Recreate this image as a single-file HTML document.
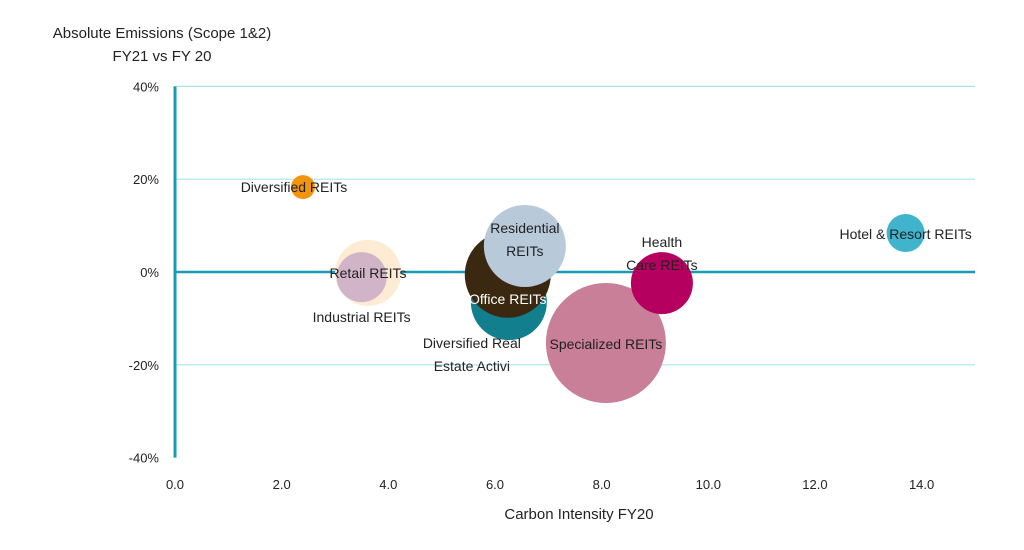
<!DOCTYPE html>
<html><head><meta charset="utf-8"><style>
html,body{margin:0;padding:0;background:#fff;width:1024px;height:550px;overflow:hidden}
svg text{font-family:"Liberation Sans",sans-serif;fill:#222}
</style></head><body>
<svg id="chart" width="1024" height="550" viewBox="0 0 1024 550" xmlns="http://www.w3.org/2000/svg">
<g>
<text x="162" y="38" font-size="15" text-anchor="middle">Absolute Emissions (Scope 1&amp;2)</text>
<text x="162" y="61" font-size="15" text-anchor="middle">FY21 vs FY 20</text>
</g>
<text x="579" y="519" font-size="15" text-anchor="middle">Carbon Intensity FY20</text>
<g id="grid"></g><g id="bubbles"></g><g id="labels"></g>
</svg>
<script>
const categories=["Retail REITs","Industrial REITs","Diversified Real Estate Activi","Office REITs","Residential REITs","Specialized REITs","Health Care REITs","Hotel & Resort REITs","Diversified REITs"];
const xValues=[3.62,3.5,6.26,6.24,6.56,8.08,9.13,13.7,2.4];
const yValues=[-0.2,-1.1,-6.5,-0.6,5.6,-15.3,-2.4,8.4,18.3];
const sizes=[33,25,38,43,41,60,31,19,12];
const colors=["#fdebd3","#d2b4c8","#127f8f","#3a2810","#b8c9da","#c97f98","#b5005f","#3fb4cc","#f2940e"];
const xTicks=[0,2,4,6,8,10,12,14];
const yTicks=[40,20,0,-20,-40];
const labelLines=[["Retail  REITs"],["Industrial REITs"],["Diversified Real","Estate Activi"],["Office REITs"],["Residential","REITs"],["Specialized REITs"],["Health","Care REITs"],["Hotel & Resort REITs"],["Diversified REITs"]];
const labelOff=[[0,5],[0,45],[-37,46],[0,29],[0,-13],[0,6],[0,-36],[0,6],[-9,5]];
const NS="http://www.w3.org/2000/svg";
const xs=v=>175+v*53.33;
const ys=v=>272-v*4.64;
const grid=document.getElementById('grid');
function mk(tag,attrs,parent){const e=document.createElementNS(NS,tag);for(const k in attrs)e.setAttribute(k,attrs[k]);parent.appendChild(e);return e;}
yTicks.forEach(t=>{
 if(t!==0&&t!==-40){const l=mk('line',{x1:175,x2:975,y1:ys(t),y2:ys(t),stroke:'#a6e6f2','stroke-width':1.2},grid);
 
 }
 const tx=mk('text',{x:159,y:ys(t)+5,'font-size':13,'text-anchor':'end'},grid);tx.textContent=t+'%';
 
 
});
xTicks.forEach(t=>{const tx=mk('text',{x:xs(t),y:489,'font-size':13,'text-anchor':'middle'},grid);tx.textContent=t.toFixed(1);
 
 });
const ya=mk('line',{x1:175,x2:175,y1:ys(40),y2:ys(-40),stroke:'#1a9bb5','stroke-width':3},grid);


const xa=mk('line',{x1:175,x2:975,y1:ys(0),y2:ys(0),stroke:'#1a9bb5','stroke-width':2.5},grid);


const bg=document.getElementById('bubbles'),lg=document.getElementById('labels');
categories.forEach((c,i)=>{
 const b=mk('circle',{cx:xs(xValues[i]),cy:ys(yValues[i]),r:sizes[i],fill:colors[i]},bg);
 
 
 const t=mk('text',{'font-size':14,'text-anchor':'middle',style:'fill:'+(i===3?'#fff':'#222')},lg);
 
 
 labelLines[i].forEach((ln,j)=>{const s=mk('tspan',{x:xs(xValues[i])+labelOff[i][0],y:ys(yValues[i])+labelOff[i][1]+j*23},t);s.textContent=ln;});
});
</script>
</body></html>
